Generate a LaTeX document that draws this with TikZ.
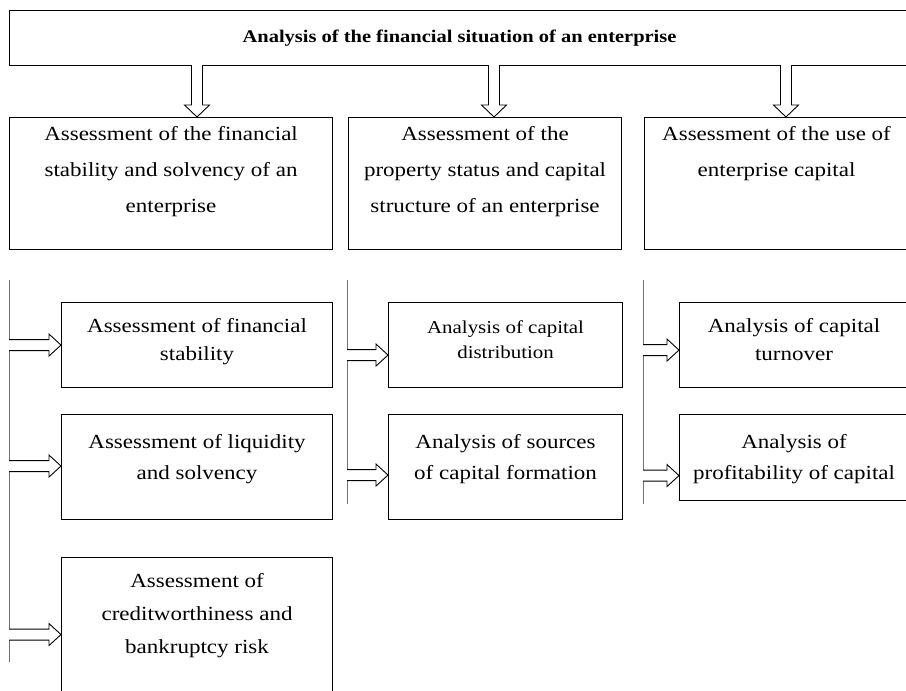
\documentclass[tikz,border=0pt]{standalone}
\usepackage{fontspec}
\setmainfont{Liberation Serif}[FakeStretch=1.15]
\usetikzlibrary{calc}
\newcommand{\varrow}[2]{\draw[hollow] ($(#1)+(-5.5,0)$) -- ($(#1 |- #2.north)+(-5.5,-12)$) -- ($(#1 |- #2.north)+(-12.5,-12)$) -- (#1 |- #2.north) -- ($(#1 |- #2.north)+(12.5,-12)$) -- ($(#1 |- #2.north)+(5.5,-12)$) -- ($(#1)+(5.5,0)$);}
\newcommand{\harrow}[3]{\draw[hollow] ($(#1 |- #2.west)+(0,#3-5.5)$) -- ($(#2.west)+(-12,#3-5.5)$) -- ($(#2.west)+(-12,#3-11)$) -- ($(#2.west)+(0,#3)$) -- ($(#2.west)+(-12,#3+11)$) -- ($(#2.west)+(-12,#3+5.5)$) -- ($(#1 |- #2.west)+(0,#3+5.5)$);}
\tikzset{
	cell/.style={draw, line width=1.1pt, anchor=north west, inner sep=0pt},
	txt/.style={anchor=north, align=center, inner sep=0pt, font=\fontsize{20}{#1}\selectfont},
	txt/.default=30,
	hollow/.style={draw, fill=white, line width=0.9pt, line join=miter},
	rule/.style={draw=black!55, line width=0.9pt}
}

\begin{document}
\begin{tikzpicture}[x=1pt, y=-1pt]
			%%%%% START %%%%%
			\useasboundingbox (0,0) rectangle (906,691);
			\clip (0,0) rectangle (906,691);
			
			\node[cell, minimum width=900pt, minimum height=55pt, font=\bfseries\fontsize{17.8}{22}\selectfont] (title) at (9,10) {Analysis of the financial situation of an enterprise};
			
			\node[cell, minimum width=323pt, minimum height=132pt] (b1) at (9,117) {};
			\node[cell, minimum width=273pt, minimum height=132pt] (b2) at (348,117) {};
			\node[cell, minimum width=264pt, minimum height=132pt] (b3) at (644,117) {};
			\node[txt=36] (b1t) at ($(b1.north)+(0,9)$) {Assessment of the financial\\stability and solvency of an\\enterprise};
			\node[txt=36] (b2t) at ($(b2.north)+(0,9)$) {Assessment of the\\property status and capital\\structure of an enterprise};
			\node[txt=36] (b3t) at ($(b3.north)+(0,9)$) {Assessment of the use of\\enterprise capital};
			
			\coordinate (d1) at (197,65);
			\coordinate (d2) at (494,65);
			\coordinate (d3) at (786,65);
			\varrow{d1}{b1}
			\varrow{d2}{b2}
			\varrow{d3}{b3}
			
			\coordinate (v1) at (9,280);
			\coordinate (v1e) at (9,662);
			\coordinate (v2) at (347,280);
			\coordinate (v2e) at (347,504);
			\coordinate (v3) at (643,280);
			\coordinate (v3e) at (643,504);
			\draw[rule] (v1) -- (v1e);
			\draw[rule] (v2) -- (v2e);
			\draw[rule] (v3) -- (v3e);
			
			\node[cell, minimum width=271pt, minimum height=85pt] (s11) at (61,302) {};
			\node[cell, minimum width=271pt, minimum height=105pt] (s12) at (61,414) {};
			\node[cell, minimum width=271pt, minimum height=140pt] (s13) at (61,557) {};
			\node[txt=28] (s11t) at ($(s11.north)+(0,16)$) {Assessment of financial\\stability};
			\node[txt=31] (s12t) at ($(s12.north)+(0,20)$) {Assessment of liquidity\\and solvency};
			\node[txt=33] (s13t) at ($(s13.north)+(0,16)$) {Assessment of\\creditworthiness and\\bankruptcy risk};
			
			\node[cell, minimum width=234pt, minimum height=85pt] (s21) at (388,302) {};
			\node[cell, minimum width=234pt, minimum height=105pt] (s22) at (388,414) {};
			\node[txt, font=\fontsize{18.2}{25}\selectfont] (s21t) at ($(s21.north)+(0,18.5)$) {Analysis of capital\\distribution};
			\node[txt=31] (s22t) at ($(s22.north)+(0,20)$) {Analysis of sources\\of capital formation};
			
			\node[cell, minimum width=229pt, minimum height=85pt] (s31) at (679,302) {};
			\node[cell, minimum width=229pt, minimum height=86pt] (s32) at (679,414) {};
			\node[txt=28] (s31t) at ($(s31.north)+(0,16)$) {Analysis of capital\\turnover};
			\node[txt=31] (s32t) at ($(s32.north)+(0,20)$) {Analysis of\\profitability of capital};
			
			\harrow{v1}{s11}{0}
			\harrow{v1}{s12}{-1}
			\harrow{v1}{s13}{7}
			\harrow{v2}{s21}{10}
			\harrow{v2}{s22}{8}
			\harrow{v3}{s31}{5}
			\harrow{v3}{s32}{18}
			%%%%% END %%%%%
\end{tikzpicture}
\end{document}
